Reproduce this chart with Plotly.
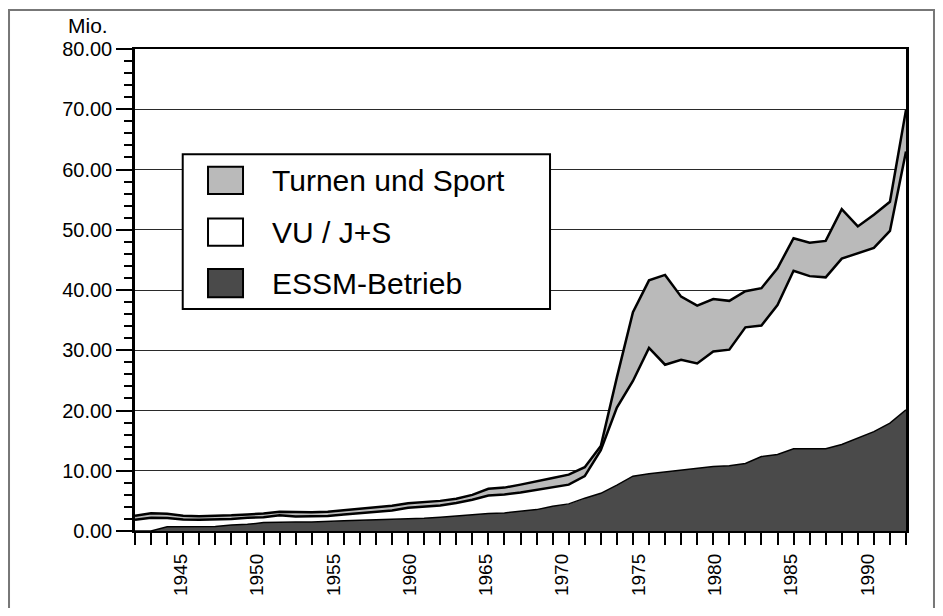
import plotly.graph_objects as go

# sample points along the time axis (one per tick mark)
points = list(range(49))

# series values (Mio.)
essm = [0, 0, 0.7, 0.7, 0.7, 0.75, 1.0, 1.1, 1.4, 1.5,
        1.5, 1.5, 1.55, 1.7, 1.8, 1.85, 1.9, 1.95, 2.1, 2.3,
        2.5, 2.75, 2.9, 3.0, 3.25, 3.55, 4.1, 4.5, 5.45, 6.25,
        7.6, 9.1, 9.5, 9.8, 10.15, 10.4, 10.7, 10.85, 11.2, 12.35,
        12.7, 13.65, 13.65, 13.65, 14.35, 15.4, 16.5, 17.9, 20.1]
vu_js = [1.85, 2.2, 1.45, 1.2, 1.15, 1.15, 1.0, 1.1, 0.9, 1.1,
         0.9, 0.95, 0.95, 1.05, 1.2, 1.35, 1.5, 1.9, 1.9, 1.95,
         2.15, 2.45, 3.0, 3.05, 3.15, 3.25, 3.1, 3.2, 3.65, 7.15,
         12.9, 15.8, 20.9, 17.8, 18.25, 17.4, 19.1, 19.25, 22.6, 21.75,
         24.8, 29.55, 28.65, 28.45, 30.85, 30.7, 30.5, 31.9, 42.9]
turnen = [0.7, 0.75, 0.7, 0.65, 0.6, 0.6, 0.6, 0.55, 0.6, 0.6,
          0.7, 0.65, 0.7, 0.7, 0.75, 0.75, 0.8, 0.75, 0.8, 0.75,
          0.7, 0.8, 1.1, 1.15, 1.3, 1.4, 1.6, 1.65, 1.5, 0.7,
          5.0, 11.4, 11.2, 14.9, 10.5, 9.6, 8.7, 8.1, 6.0, 6.2,
          6.1, 5.4, 5.55, 6.05, 8.2, 4.45, 5.5, 4.85, 6.9]

year_range = [1942, 1992.53]
year_tick0 = 1945
year_dtick = 5

series_names = ["Turnen und Sport", "VU / J+S", "ESSM-Betrieb"]
fill_light = "#bababa"
fill_white = "#ffffff"
fill_dark = "#4a4a4a"

FONT = "Liberation Sans, Arial, Helvetica, sans-serif"

fig = go.Figure()
fig.add_trace(go.Scatter(x=points, y=essm, stackgroup="s", mode="lines",
                         line=dict(color="black", width=1.5), fillcolor=fill_dark,
                         name=series_names[2], showlegend=False))
fig.add_trace(go.Scatter(x=points, y=vu_js, stackgroup="s", mode="lines",
                         line=dict(color="black", width=2.5), fillcolor=fill_white,
                         name=series_names[1], showlegend=False))
fig.add_trace(go.Scatter(x=points, y=turnen, stackgroup="s", mode="lines",
                         line=dict(color="black", width=2.5), fillcolor=fill_light,
                         name=series_names[0], showlegend=False))
# invisible trace so the year axis is drawn
fig.add_trace(go.Scatter(x=[year_range[0]], y=[0], xaxis="x2", mode="none",
                         showlegend=False, hoverinfo="skip"))

# page body has an 8px margin: figure sized so the page does not overflow and
# the plot area sits at x 135..906, y 49..544 of the window
fig.update_layout(
    width=927, height=600,
    margin=dict(l=127, r=29, t=41, b=64),
    paper_bgcolor="white", plot_bgcolor="white",
    font=dict(family=FONT, color="black"),
    showlegend=False,
    xaxis=dict(range=[0, 48], dtick=1, tick0=0, ticks="outside", ticklen=12,
               tickwidth=1.5, tickcolor="black", showticklabels=False,
               showgrid=False, zeroline=False, showline=True, linecolor="black",
               linewidth=2, mirror=True),
    xaxis2=dict(overlaying="x", anchor="y", side="bottom", range=year_range,
                tick0=year_tick0, dtick=year_dtick, ticks="", tickangle=-90,
                tickfont=dict(size=19, family=FONT), showgrid=False, zeroline=False,
                showline=False, ticklabelstandoff=18),
    yaxis=dict(range=[0, 80], dtick=10, tickformat=".2f", ticks="outside",
               ticklen=16, tickwidth=1.5, tickcolor="black",
               tickfont=dict(size=20, family=FONT),
               showgrid=True, gridcolor="#2a2a2a", gridwidth=1.3,
               zeroline=False, showline=True, linecolor="black", linewidth=2.5,
               mirror=True,
               minor=dict(dtick=2, ticks="outside", ticklen=8, tickwidth=1.5,
                          tickcolor="black", showgrid=False)),
)

shapes = []
annotations = []
# outer frame of the picture
shapes.append(dict(type="rect", xref="paper", yref="paper", x0=-0.1634, x1=1.0363,
                   y0=-0.2, y1=1.0808, line=dict(color="#777777", width=2),
                   fillcolor="rgba(0,0,0,0)", layer="below"))
# legend box
shapes.append(dict(type="rect", xref="paper", yref="paper", x0=0.0619, x1=0.5383,
                   y0=0.4606, y1=0.7818, line=dict(color="black", width=2),
                   fillcolor="white", layer="above"))
legend_rows = [(0.6990, 0.7556, 0.7273, fill_light, series_names[0]),
               (0.5919, 0.6485, 0.6202, fill_white, series_names[1]),
               (0.4848, 0.5434, 0.5141, fill_dark, series_names[2])]
for y0, y1, yc, col, name in legend_rows:
    shapes.append(dict(type="rect", xref="paper", yref="paper", x0=0.0947, x1=0.1401,
                       y0=y0, y1=y1, line=dict(color="black", width=2),
                       fillcolor=col, layer="above"))
    annotations.append(dict(xref="paper", yref="paper", x=0.1751, y=yc, text=name,
                            showarrow=False, xanchor="left", yanchor="middle",
                            font=dict(size=30, family=FONT, color="black")))
annotations.append(dict(xref="paper", yref="paper", x=-0.0324, y=1.0768, text="Mio.",
                        showarrow=False, xanchor="right", yanchor="top",
                        font=dict(size=21, family=FONT, color="black")))

fig.update_layout(shapes=shapes, annotations=annotations)
fig.write_html("out.html")
